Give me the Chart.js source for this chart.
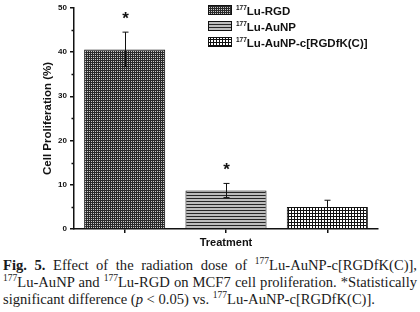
<!DOCTYPE html>
<html lang="en">
<head>
<meta charset="UTF-8">
<title>Fig. 5</title>
<script src="https://cdn.jsdelivr.net/npm/chart.js"></script>
<style>
  body { margin: 0; background: #fff; width: 420px; height: 312px; overflow: hidden; }
  #wrap { position: absolute; left: 0; top: 0; width: 420px; height: 250px; }
  .caption { position: absolute; left: 3px; top: 257px; width: 414px; font-family: "Liberation Serif", "Times New Roman", serif;
             font-size: 14.6px; line-height: 17px; color: #1a1a1a; }
  .caption div { text-align: justify; text-align-last: justify; white-space: nowrap; }
  .caption div.ult { text-align-last: left; }
  .caption sup { font-size: 9.5px; line-height: 0; }
</style>
</head>
<body>
<div id="wrap"><canvas id="grafico" width="420" height="250"></canvas></div>
<div class="caption">
  <div><b>Fig. 5.</b> Effect of the radiation dose of <sup>177</sup>Lu-AuNP-c[RGDfK(C)],</div>
  <div><sup>177</sup>Lu-AuNP and <sup>177</sup>Lu-RGD on MCF7 cell proliferation. *Statistically</div>
  <div class="ult">significant difference (<i>p</i> &lt; 0.05) vs. <sup>177</sup>Lu-AuNP-c[RGDfK(C)].</div>
</div>

<script>
// data
const categorias = ["Lu-RGD", "Lu-AuNP", "Lu-AuNP-c[RGDfK(C)]"];
const isotopo = "177";
const valores = [40.6, 8.7, 5.0];
const errores = [3.9, 1.6, 1.5];
const asteriscos = [true, true, false];
const yTicks = [0, 10, 20, 30, 40, 50];

function patron(w, h, fondo, pintar) {
    const c = document.createElement('canvas');
    c.width = w; c.height = h;
    const g = c.getContext('2d');
    g.fillStyle = fondo; g.fillRect(0, 0, w, h);
    pintar(g);
    return document.getElementById('grafico').getContext('2d').createPattern(c, 'repeat');
}
const patrones = [
    patron(2, 2, '#2a2a2a', g => { g.fillStyle = '#c8c8c8'; g.fillRect(1, 1, 1, 1); }),
    patron(1, 3, '#bdbdbd', g => { g.fillStyle = '#262626'; g.fillRect(0, 0, 1, 1); }),
    patron(3, 3, '#ffffff', g => { g.fillStyle = '#111'; g.fillRect(0, 0, 3, 1); g.fillRect(0, 0, 1, 3); })
];

const fuente = '"Liberation Sans", Arial, sans-serif';

const extras = {
    id: 'extras',
    afterDatasetsDraw(chart) {
        const ctx = chart.ctx;
        const x = chart.scales.x, y = chart.scales.y;
        ctx.save();
        ctx.strokeStyle = '#111';
        ctx.lineWidth = 1;
        valores.forEach((v, i) => {
            const cx = Math.round(x.getPixelForValue(i)) + 0.5;
            const top = y.getPixelForValue(v + errores[i]);
            const bot = y.getPixelForValue(v - errores[i]);
            ctx.beginPath();
            ctx.moveTo(cx, bot); ctx.lineTo(cx, top);
            ctx.moveTo(cx - 3, top); ctx.lineTo(cx + 3, top);
            ctx.moveTo(cx - 3, bot); ctx.lineTo(cx + 3, bot);
            ctx.stroke();
            if (asteriscos[i]) {
                ctx.fillStyle = '#111';
                ctx.font = 'bold 17px ' + fuente;
                ctx.textAlign = 'center';
                ctx.textBaseline = 'middle';
                ctx.fillText('*', cx, top - 13);
            }
        });
        // minor ticks at 5s
        for (let v = 5; v < 50; v += 10) {
            const py = Math.round(y.getPixelForValue(v)) + 0.5;
            ctx.beginPath();
            ctx.moveTo(x.left - 2.5, py); ctx.lineTo(x.left, py);
            ctx.lineWidth = 1.5;
            ctx.stroke();
        }
        // legend
        const lx = 208, ly = [5, 21, 37];
        categorias.forEach((c, i) => {
            ctx.fillStyle = patrones[i];
            ctx.fillRect(lx, ly[i], 24, 10);
            ctx.lineWidth = 1;
            ctx.strokeStyle = '#111';
            ctx.strokeRect(lx + 0.5, ly[i] + 0.5, 23, 9);
            ctx.fillStyle = '#111';
            ctx.textAlign = 'left';
            ctx.textBaseline = 'alphabetic';
            ctx.font = 'bold 6.5px ' + fuente;
            ctx.fillText(isotopo, lx + 28, ly[i] + 4.5);
            const w = ctx.measureText(isotopo).width;
            ctx.font = 'bold 11.5px ' + fuente;
            ctx.fillText(c, lx + 28 + w, ly[i] + 10);
        });
        ctx.restore();
    }
};

new Chart(document.getElementById('grafico'), {
    type: 'bar',
    data: {
        labels: categorias,
        datasets: [{
            data: valores,
            backgroundColor: patrones,
            borderColor: '#111',
            borderWidth: 1,
            borderSkipped: 'bottom',
            barPercentage: 0.8,
            categoryPercentage: 1
        }]
    },
    options: {
        responsive: false,
        animation: false,
        layout: { padding: { left: 41, right: 42, top: 4, bottom: 0 } },
        plugins: { legend: { display: false }, tooltip: { enabled: false } },
        scales: {
            x: {
                grid: { display: true, drawOnChartArea: false, offset: false, color: '#111', tickLength: 4, lineWidth: 1.5 },
                border: { color: '#111', width: 1.5 },
                ticks: { display: false },
                title: { display: true, text: 'Treatment', color: '#111', font: { family: fuente, weight: 'bold', size: 11 }, padding: { top: 1, bottom: 0 } },
                afterFit: a => { a.height = 21; }
            },
            y: {
                min: 0, max: 50,
                afterBuildTicks: a => { a.ticks = yTicks.map(v => ({ value: v })); },
                grid: { drawOnChartArea: false, color: '#111', tickLength: 4, lineWidth: 1.5 },
                border: { color: '#111', width: 1.5 },
                ticks: { color: '#111', padding: 3, font: { family: fuente, weight: 'bold', size: 8 } },
                title: { display: true, text: 'Cell Proliferation (%)', color: '#111', font: { family: fuente, weight: 'bold', size: 11.5 }, padding: 0 },
                afterFit: a => { a.width = 33; }
            }
        }
    },
    plugins: [extras]
});
</script>
</body>
</html>
